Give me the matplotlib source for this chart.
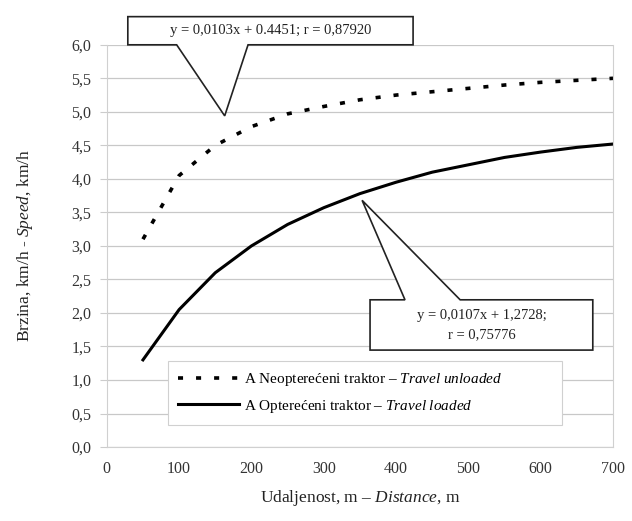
from matplotlib import pyplot as pl
from matplotlib.patches import Polygon
import numpy as np

# Distance, m
distance = [50, 100, 150, 200, 250, 300, 350, 400, 450, 500, 550, 600, 650, 700]
# Travel unloaded, km/h
speed_unloaded = [3.10, 4.05, 4.50, 4.78, 4.97, 5.08, 5.18, 5.25, 5.30, 5.35,
                  5.40, 5.44, 5.47, 5.50]
# Travel loaded, km/h
speed_loaded = [1.30, 2.05, 2.60, 3.00, 3.32, 3.57, 3.78, 3.95, 4.10, 4.21,
                4.32, 4.40, 4.47, 4.52]

yticks = np.arange(0, 6.01, 0.5)
xticks = np.arange(0, 701, 100)

pl.rcParams['font.family'] = ['Liberation Serif', 'DejaVu Serif']
pl.rcParams['mathtext.fontset'] = 'custom'
pl.rcParams['mathtext.rm'] = 'Liberation Serif'
pl.rcParams['mathtext.it'] = 'Liberation Serif:italic'

fig = pl.figure(figsize=(6.32, 5.21), dpi=100)
ax = fig.add_axes([0.169, 0.142, 0.801, 0.772])

ax.plot(distance, speed_unloaded, color='black', lw=2.6,
        linestyle=(0, (1.4, 3.6)), solid_capstyle='butt',
        label=r'A Neopterećeni traktor – $\it{Travel\ unloaded}$')
ax.plot(distance, speed_loaded, color='black', lw=2.2,
        solid_joinstyle='round',
        label=r'A Opterećeni traktor – $\it{Travel\ loaded}$')

ax.set_xlim(0, 700)
ax.set_ylim(0, 6)
ax.set_xticks(xticks)
ax.set_yticks(yticks)
ax.set_yticklabels([('%.1f' % v).replace('.', ',') for v in yticks])
ax.tick_params(axis='x', length=0, pad=10, labelsize=11.5, colors='#333333')
ax.tick_params(axis='y', length=5, width=0.8, color='#cccccc', pad=6,
               labelsize=11.5, labelcolor='#333333')
ax.grid(axis='y', color='#c8c8c8', lw=0.9)
for side in ['left', 'right', 'bottom']:
    ax.spines[side].set_color('#d0d0d0')
ax.spines['top'].set_visible(False)

ax.set_xlabel(r'Udaljenost, m – $\it{Distance}$, m', fontsize=12.5,
              labelpad=8, color='#222222')
ax.set_ylabel(r'Brzina, km/h - $\it{Speed}$, km/h', fontsize=12.5,
              labelpad=26, color='#222222')

leg = ax.legend(loc='lower left', bbox_to_anchor=(0.105, 0.035, 0.81, 0.165),
                mode='expand', fontsize=11, handlelength=4.0,
                handletextpad=0.3, borderpad=0.7, labelspacing=0.6,
                fancybox=False, framealpha=1)
leg.get_frame().set_edgecolor('#d0d0d0')
leg.get_frame().set_linewidth(0.8)


def to_frac(x, y):
    return ((x - 0) / 700.0, (y - 0) / 6.0)


def callout(x0, x1, y0, y1, b0, b1, tip, edge, text):
    tx, ty = to_frac(*tip)
    if edge == 'bottom':
        pts = [(x0, y0), (b0, y0), (tx, ty), (b1, y0), (x1, y0),
               (x1, y1), (x0, y1)]
    else:
        pts = [(x0, y0), (x1, y0), (x1, y1), (b1, y1), (tx, ty),
               (b0, y1), (x0, y1)]
    poly = Polygon(pts, closed=True, facecolor='white', edgecolor='#222222',
                   lw=1.2, transform=ax.transAxes, clip_on=False, zorder=5)
    ax.add_patch(poly)
    ax.text((x0 + x1) / 2, (y0 + y1) / 2, text, transform=ax.transAxes,
            ha='center', va='center', fontsize=10.5, zorder=6,
            linespacing=1.6, color='#222222')


callout(0.0415, 0.605, 1.0, 1.07, 0.138, 0.279, (163, 4.94), 'bottom',
        'y = 0,0103x + 0.4451; r = 0,87920')
callout(0.52, 0.96, 0.241, 0.366, 0.589, 0.698, (353, 3.68), 'top',
        'y = 0,0107x + 1,2728;\nr = 0,75776')

fig.savefig('out.png', dpi=100)
